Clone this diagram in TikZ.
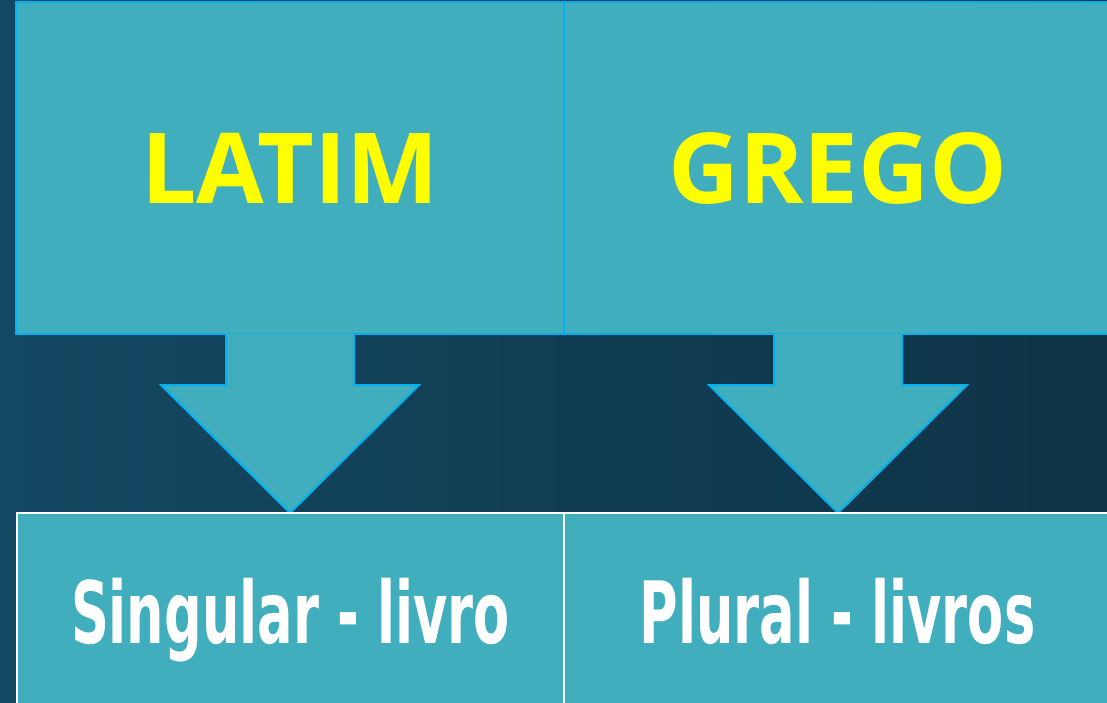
\documentclass[tikz,border=0pt]{standalone}
\usepackage{fontspec}
\setmainfont{Open Sans}
\newfontfamily\titlefont{Open Sans}
\newfontfamily\agencyfont[FakeStretch=0.68]{DejaVu Sans Condensed}
\usetikzlibrary{calc}

\definecolor{boxteal}{HTML}{40AEBD}
\definecolor{edgeblue}{HTML}{00B0F0}
\definecolor{bgleft}{HTML}{134862}
\definecolor{bgright}{HTML}{0E3346}
\definecolor{titleyellow}{HTML}{FFFF00}

\begin{document}
\begin{tikzpicture}[
  x=1pt, y=-1pt,
  topbox/.style={
    fill=boxteal, draw=edgeblue, line width=2pt,
    minimum width=548pt, minimum height=332pt, inner sep=0pt,
    anchor=north west, text=titleyellow,
    font=\titlefont\bfseries\fontsize{98}{98}\selectfont,
  },
  lowbox/.style={
    fill=boxteal, draw=white, line width=2pt,
    minimum width=547pt, minimum height=195pt, inner sep=0pt,
    anchor=north west, text=white, text depth=0pt,
    font=\agencyfont\bfseries\fontsize{86}{86}\selectfont,
  },
]

\clip (0,0) rectangle (1107,702);
\shade[left color=bgleft, right color=bgright] (0,0) rectangle (1107,702);

\node[topbox] (latim) at (15,1) {LATIM};
\node[topbox] (grego) at (563,1) {GREGO};

\foreach \n in {latim,grego} {
  \fill[boxteal]
  ($(\n.south)+(-64,-1.5)$)
  -- ++(0,51.5)
  -- ++(-65,0)
  -- ++(129,128)
  -- ++(129,-128)
  -- ++(-65,0)
  -- ++(0,-51.5)
  -- cycle;
  \draw[edgeblue, line width=2pt, line join=miter]
  ($(\n.south)+(-64,0)$)
  -- ++(0,50)
  -- ++(-65,0)
  -- ++(129,128)
  -- ++(129,-128)
  -- ++(-65,0)
  -- ++(0,-50);
}

\node[lowbox] (singular) at (16,512) {Singular - livro};
\node[lowbox] (plural) at (563,512) {Plural - livros};

\end{tikzpicture}
\end{document}
